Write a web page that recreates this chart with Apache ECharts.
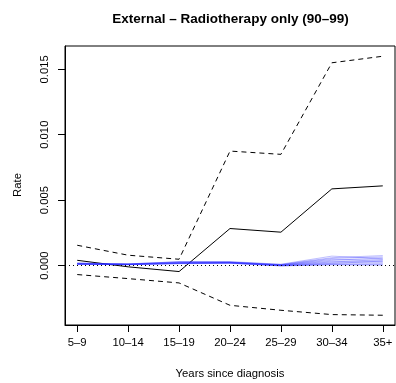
<!DOCTYPE html>
<html><head><meta charset="utf-8">
<script src="https://cdn.jsdelivr.net/npm/echarts@6/dist/echarts.min.js"></script>
<style>html,body{margin:0;padding:0;background:#fff}#c{width:396px;height:383px}</style>
</head><body><div id="c"></div>
<script>
const categories = ['5–9','10–14','15–19','20–24','25–29','30–34','35+'];
const estimate = [0.00040, -0.00010, -0.00046, 0.00283, 0.00255, 0.00586, 0.00609];
const upperCI = [0.00155, 0.00079, 0.00048, 0.00875, 0.00850, 0.01550, 0.01600];
const lowerCI = [-0.00069, -0.00100, -0.00133, -0.00304, -0.00342, -0.00375, -0.00380];
const simLines = [
  [0.00020, 0.00012, 0.00030, 0.00030, 0.00010, 0.00072, 0.00052],
  [0.00018, 0.00013, 0.00028, 0.00027, 0.00008, 0.00060, 0.00076],
  [0.00016, 0.00011, 0.00027, 0.00026, 0.00006, 0.00054, 0.00066],
  [0.00015, 0.00010, 0.00024, 0.00025, 0.00005, 0.00047, 0.00040],
  [0.00014, 0.00010, 0.00023, 0.00024, 0.00004, 0.00040, 0.00058],
  [0.00013, 0.00009, 0.00021, 0.00023, 0.00003, 0.00033, 0.00030],
  [0.00012, 0.00009, 0.00019, 0.00022, 0.00002, 0.00027, 0.00046],
  [0.00012, 0.00008, 0.00018, 0.00021, 0.00001, 0.00021, 0.00022],
  [0.00011, 0.00008, 0.00017, 0.00020, 0.00000, 0.00016, 0.00034],
  [0.00010, 0.00007, 0.00016, 0.00019, -0.00001, 0.00012, 0.00014],
  [0.00010, 0.00007, 0.00015, 0.00018, -0.00002, 0.00008, 0.00008],
  [0.00009, 0.00006, 0.00014, 0.00017, -0.00003, 0.00005, 0.00002]
];
const yTicks = [0, 0.005, 0.010, 0.015];
const yTickLabels = ['0.000','0.005','0.010','0.015'];
const xTicks = [1,2,3,4,5,6,7];

const pts = arr => arr.map((v,i) => [i+1, v]);
const FONT = 'Liberation Sans, Arial, sans-serif';
const series = [];
series.push({type:'line', data: pts(upperCI), symbol:'none', silent:true,
  lineStyle:{color:'#000', width:1, type:[5,4]}});
series.push({type:'line', data: pts(lowerCI), symbol:'none', silent:true,
  lineStyle:{color:'#000', width:1, type:[5,4]}});
series.push({type:'line', data: pts(estimate), symbol:'none', silent:true,
  lineStyle:{color:'#000', width:1},
  markLine:{silent:true, symbol:'none', label:{show:false},
    lineStyle:{color:'#000', width:1, type:[1,3]}, data:[{yAxis:0}]}});
simLines.forEach(l => series.push({type:'line', data: pts(l), symbol:'none', silent:true,
  lineStyle:{color:'rgba(40,40,255,0.3)', width:1}}));

const chart = echarts.init(document.getElementById('c'), null, {renderer:'canvas'});
chart.setOption({
  animation:false,
  backgroundColor:'#fff',
  grid:{left:65, right:1, top:46, bottom:58, show:true, borderColor:'#000', borderWidth:1, backgroundColor:'transparent'},
  xAxis:{type:'value', min:0.76, max:7.24,
    axisLine:{show:true, onZero:false, lineStyle:{color:'#000', width:1}}, splitLine:{show:false},
    axisTick:{show:true, customValues:xTicks, length:7, inside:false, lineStyle:{color:'#000'}},
    axisLabel:{show:true, customValues:xTicks, margin:12, color:'#000', fontSize:11.3, fontFamily:FONT,
      formatter: v => categories[Math.round(v)-1] || ''}
  },
  yAxis:{type:'value', min:-0.004546, max:0.016783,
    axisLine:{show:true, onZero:false, lineStyle:{color:'#000', width:1}}, splitLine:{show:false},
    axisTick:{show:true, customValues:yTicks, length:7, inside:false, lineStyle:{color:'#000'}},
    axisLabel:{show:true, customValues:yTicks, rotate:90, margin:15, color:'#000', fontSize:11.3, fontFamily:FONT,
      formatter: v => { const i = yTicks.findIndex(t => Math.abs(t-v)<1e-9); return i>=0 ? yTickLabels[i] : ''; }}
  },
  graphic:[
    {type:'text', x:230.5, y:19, style:{text:'External – Radiotherapy only (90–99)', x:0, y:0, fill:'#000', font:'bold 13.5px '+FONT, align:'center', verticalAlign:'middle'}},
    {type:'text', x:230, y:374, style:{text:'Years since diagnosis', x:0, y:0, fill:'#000', font:'11.3px '+FONT, align:'center', verticalAlign:'middle'}},
    {type:'text', rotation:Math.PI/2, x:18, y:185, style:{text:'Rate', x:0, y:0, fill:'#000', font:'11.3px '+FONT, align:'center', verticalAlign:'middle'}}
  ],
  series: series
});
</script></body></html>
